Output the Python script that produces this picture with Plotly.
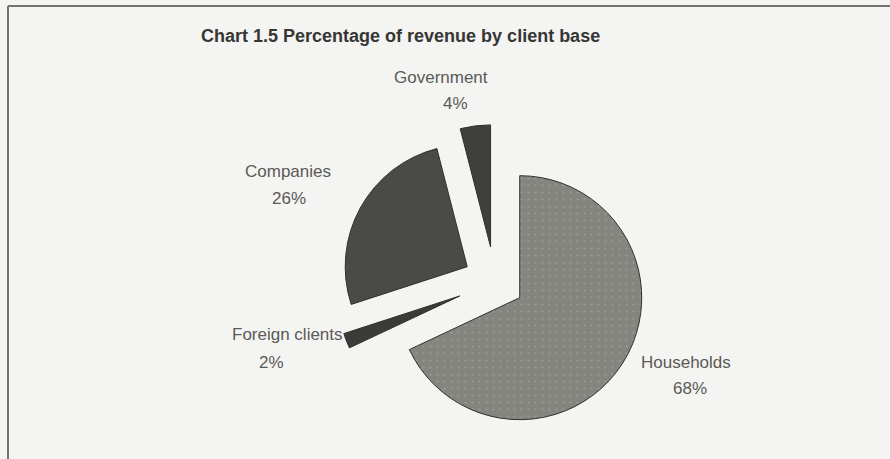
import plotly.graph_objects as go

# Revenue share by client base (percent), clockwise from 12 o'clock
segments = ["Households", "Foreign clients", "Companies", "Government"]
shares = [68, 2, 26, 4]
explode = [0.24, 0.31, 0.26, 0.29]
slice_colors = ["#85857f", "#3b3b38", "#4a4a46", "#3f3f3b"]

title_text = "Chart 1.5 Percentage of revenue by client base"

W, H = 890, 459

# Pie centre and radius in pixels
cx, cy, radius = 495, 282, 122
box = 2 * radius * (1 + max(explode))

def px(x):
    return x / W

def py(y):
    return 1 - y / H

fig = go.Figure(
    go.Pie(
        labels=segments,
        values=shares,
        pull=explode,
        sort=False,
        direction="clockwise",
        rotation=0,
        textinfo="none",
        hoverinfo="label+percent",
        marker=dict(
            colors=slice_colors,
            line=dict(color="#2f2f2d", width=1),
            pattern=dict(
                shape=[".", "", "", ""],
                fillmode="overlay",
                fgcolor="#b4b4ae",
                fgopacity=0.45,
                size=7,
                solidity=0.08,
            ),
        ),
        domain=dict(
            x=[px(cx - box / 2), px(cx + box / 2)],
            y=[py(cy + box / 2), py(cy - box / 2)],
        ),
        showlegend=False,
    )
)

# Label anchor points (name line, value line) in pixels
name_pos = {
    "Households": (686, 362),
    "Foreign clients": (287, 334),
    "Companies": (288, 172),
    "Government": (441, 77),
}
value_pos = {
    "Households": (690, 388),
    "Foreign clients": (271, 362),
    "Companies": (289, 199),
    "Government": (455, 104),
}

label_font = dict(family="Arial, Liberation Sans, sans-serif", size=17, color="#5a5a57")
annotations = []
for seg, val in zip(segments, shares):
    nx, ny = name_pos[seg]
    vx, vy = value_pos[seg]
    annotations.append(dict(x=px(nx), y=py(ny), xref="paper", yref="paper",
                            text=seg, showarrow=False, font=label_font,
                            xanchor="center", yanchor="middle"))
    annotations.append(dict(x=px(vx), y=py(vy), xref="paper", yref="paper",
                            text=f"{val}%", showarrow=False, font=label_font,
                            xanchor="center", yanchor="middle"))

annotations.append(dict(
    x=px(400), y=py(36), xref="paper", yref="paper",
    text=f"<b>{title_text}</b>", showarrow=False,
    font=dict(family="Arial, Liberation Sans, sans-serif", size=18, color="#363634"),
    xanchor="center", yanchor="middle",
))

fig.update_layout(
    width=W,
    height=H,
    margin=dict(l=0, r=0, t=0, b=0),
    paper_bgcolor="#f4f4f2",
    plot_bgcolor="#f4f4f2",
    annotations=annotations,
    shapes=[
        dict(type="line", xref="paper", yref="paper",
             x0=px(8), y0=py(H + 5), x1=px(8), y1=py(6),
             line=dict(color="#727270", width=2)),
        dict(type="line", xref="paper", yref="paper",
             x0=px(8), y0=py(6), x1=px(W + 5), y1=py(6),
             line=dict(color="#727270", width=2)),
    ],
)

fig.write_html("out.html")
